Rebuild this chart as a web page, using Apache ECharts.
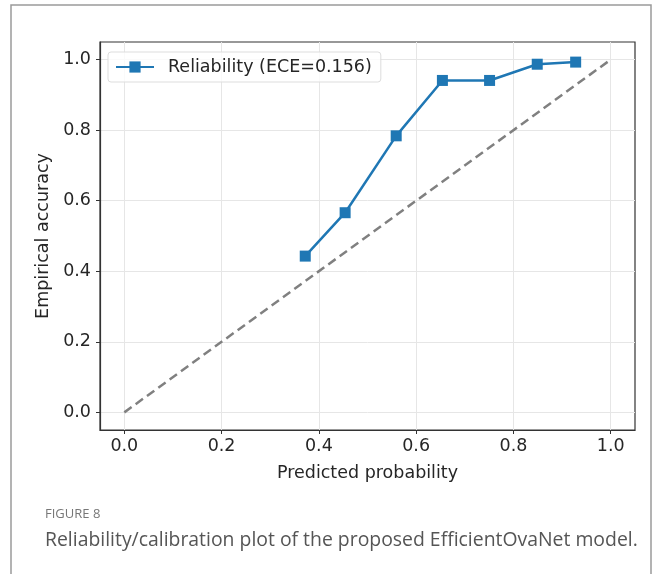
<!DOCTYPE html>
<html>
<head>
<meta charset="utf-8">
<script src="https://cdn.jsdelivr.net/npm/echarts@6/dist/echarts.min.js"></script>
<style>html,body{margin:0;padding:0;background:#fff}#c{width:656px;height:574px}</style>
</head>
<body>
<div id="c"></div>
<script>
const predProb = [0.372, 0.454, 0.559, 0.654, 0.751, 0.849, 0.928];
const empAcc = [0.443, 0.566, 0.784, 0.941, 0.941, 0.987, 0.993];
const diagX = [0, 1];
const diagY = [0, 1];
const tickValues = [0, 0.2, 0.4, 0.6, 0.8, 1.0];
const seriesName = 'Reliability (ECE=0.156)';
const xTitle = 'Predicted probability';
const yTitle = 'Empirical accuracy';
const figLabel = 'FIGURE 8';
const caption = 'Reliability/calibration plot of the proposed EfficientOvaNet model.';

const chart = echarts.init(document.getElementById('c'), null, {renderer: 'canvas'});
const font = 'DejaVu Sans';
const fs = 17.5;
function axisCommon(name, isX) {
  return {
    type: 'value', min: -0.05, max: 1.05,
    name: name, nameLocation: 'middle', nameGap: isX ? 34 : 48,
    nameTextStyle: {fontFamily: font, fontSize: fs, color: '#262626'},
    axisLine: {show: true, onZero: false, lineStyle: {color: '#333', width: 1.2}},
    axisTick: {show: true, inside: false, length: 4, customValues: tickValues, lineStyle: {color: '#333'}},
    axisLabel: {customValues: tickValues, fontFamily: font, fontSize: fs, color: '#262626', margin: isX ? 7 : 9,
      formatter: v => v.toFixed(1)},
    splitLine: {show: true, lineStyle: {color: '#e6e6e6', width: 1}}
  };
}
chart.setOption({
  animation: false,
  backgroundColor: '#fff',
  grid: {left: 100, right: 21, top: 42, bottom: 144, show: true, borderColor: '#333', borderWidth: 1.2, backgroundColor: 'transparent'},
  xAxis: axisCommon(xTitle, true),
  yAxis: axisCommon(yTitle, false),
  legend: {
    data: [seriesName], left: 108, top: 52,
    orient: 'vertical',
    padding: [6, 9, 6, 7],
    itemWidth: 38, itemHeight: 14, itemGap: 12,
    borderColor: '#ddd', borderWidth: 1, borderRadius: 3, backgroundColor: 'rgba(255,255,255,0.8)',
    textStyle: {fontFamily: font, fontSize: fs, color: '#262626', padding: [0, 0, 0, 9]}
  },
  series: [
    {
      name: 'diag', type: 'line', data: diagX.map((x, i) => [x, diagY[i]]),
      symbol: 'none', lineStyle: {color: '#808080', width: 2.5, type: [9, 5]}, z: 1, silent: true
    },
    {
      name: seriesName, type: 'line', data: predProb.map((x, i) => [x, empAcc[i]]),
      symbol: 'rect', symbolSize: 11, itemStyle: {color: '#1f77b4'},
      lineStyle: {color: '#1f77b4', width: 2.5}, z: 3
    }
  ],
  graphic: [
    {type: 'rect', shape: {x: 11, y: 5, width: 640, height: 600}, style: {fill: 'none', stroke: '#9a9a9a', lineWidth: 1.5}, z: -1},
    {type: 'text', left: 45, top: 508, style: {text: figLabel, fontFamily: 'Open Sans', fontSize: 13, fill: '#777'}},
    {type: 'text', left: 45, top: 531, style: {text: caption, fontFamily: 'Open Sans', fontSize: 19.4, fill: '#555'}}
  ]
});
</script>
</body>
</html>
